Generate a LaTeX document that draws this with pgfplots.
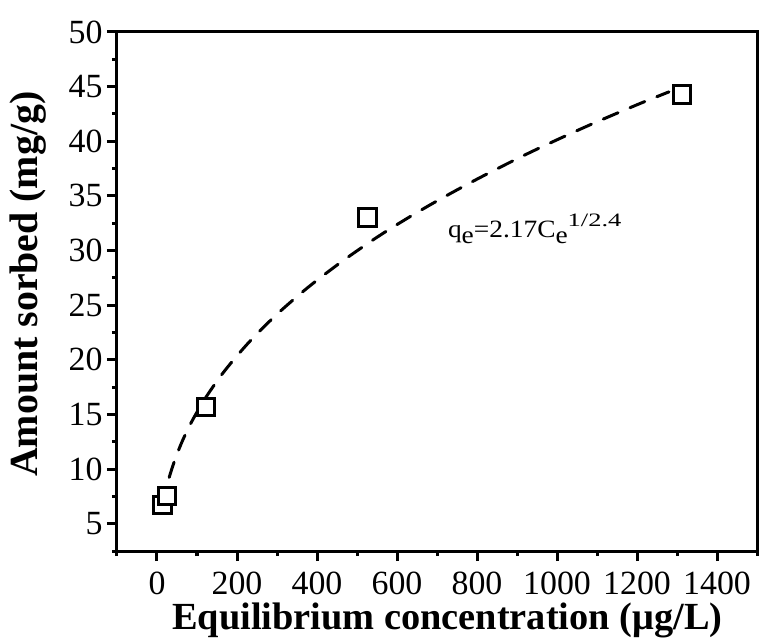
\documentclass[border=0pt]{standalone}
\usepackage{pgfplots}
\pgfplotsset{compat=1.18}
\usepackage{fontspec}
\setmainfont{Liberation Serif}
\newfontfamily\annfont[FakeStretch=1.1]{Liberation Serif}
\newfontfamily\supfont[FakeStretch=1.4]{Liberation Serif}
\begin{document}
\begin{tikzpicture}
\begin{axis}[
  scale only axis, width=640bp, height=519bp,
  xmin=-100, xmax=1500, ymin=2.5, ymax=50,
  xtick={0,200,...,1400}, minor xtick={-100,100,...,1500},
  ytick={5,10,...,50}, minor ytick={2.5,7.5,...,47.5},
  xtick pos=bottom, ytick pos=left, tick align=outside,
  major tick length=10bp, minor tick length=5bp,
  axis line style={line width=3bp},
  every tick/.style={black, line width=3bp},
  /pgf/number format/assume math mode=true,
  /pgf/number format/1000 sep={},
  tick label style={font=\fontsize{34}{40}\selectfont},
  xticklabel style={yshift=-7bp},
  yticklabel style={xshift=-1bp},
  xlabel={\bfseries\fontsize{38.5}{44}\selectfont Equilibrium concentration (μg/L)},
  ylabel={\bfseries\fontsize{40}{46}\selectfont Amount sorbed (mg/g)},
  xlabel style={at={(axis description cs:0.516,-0.152)}, anchor=base},
  ylabel style={at={(axis description cs:-0.139,0.514)}, anchor=center},
]
\addplot[only marks, mark=square*, mark size=8.75bp, mark options={line width=3bp, draw=black, fill=white}]
  coordinates {(13.8,6.72) (24.7,7.52) (122.5,15.67) (526,33.0) (1312,44.3)};
\addplot[black, line width=3bp, line cap=round, dash pattern=on 16bp off 13bp, smooth]
  coordinates {(14,6.65) (20,7.73) (30,9.17) (45,10.88) (65,12.70) (90,14.56) (125,16.72) (170,19.03) (230,21.61) (300,24.17) (380,26.70) (470,29.20) (570,31.69) (680,34.12) (800,36.53) (930,38.93) (1070,41.30) (1200,43.34) (1280,44.52)};
\node[anchor=base west, font=\annfont\fontsize{25}{30}\selectfont, inner sep=0pt] at (axis cs:727,31.2)
  {q\raisebox{-6bp}{e}=2.17C\raisebox{-6bp}{e}\raisebox{11bp}{\supfont\fontsize{19}{20}\selectfont 1/2.4}};
\end{axis}
\pgfresetboundingbox
\path (current axis.south west) ++(-117bp,-93bp) rectangle ++(761bp,644bp);
\end{tikzpicture}
\end{document}
